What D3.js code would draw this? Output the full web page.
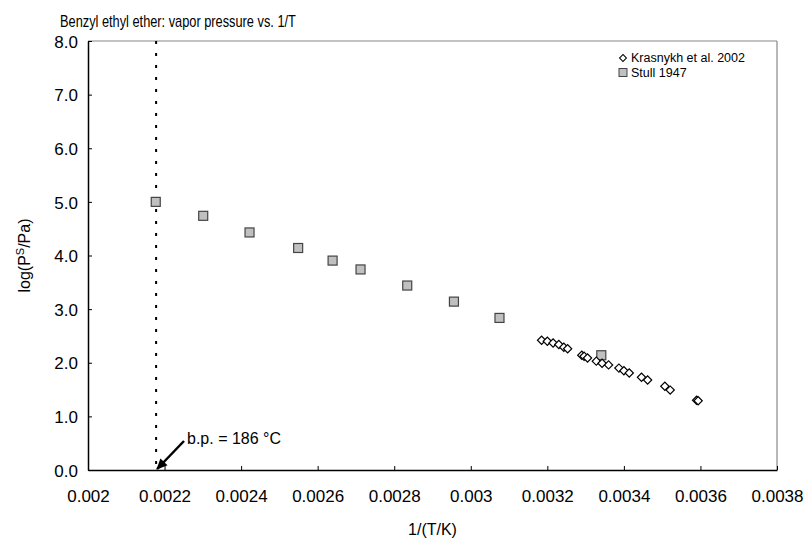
<!DOCTYPE html>
<html><head><meta charset="utf-8">
<script src="https://cdn.jsdelivr.net/npm/d3@7"></script>
<style>body{margin:0;background:#fff}svg{display:block}text{font-family:"Liberation Sans",Arial,sans-serif}</style>
</head><body>
<svg id="c" width="812" height="542"></svg>
<script>
const title = "Benzyl ethyl ether: vapor pressure vs. 1/T";
const xTicks = [0.002,0.0022,0.0024,0.0026,0.0028,0.003,0.0032,0.0034,0.0036,0.0038];
const xTickLabels = ["0.002","0.0022","0.0024","0.0026","0.0028","0.003","0.0032","0.0034","0.0036","0.0038"];
const yTicks = [0,1,2,3,4,5,6,7,8];
const yTickLabels = ["0.0","1.0","2.0","3.0","4.0","5.0","6.0","7.0","8.0"];
const krasnykhX = [0.003185,0.003200,0.003215,0.003230,0.003243,0.003253,0.003290,0.003296,0.003305,0.003328,0.003343,0.003360,0.003387,0.003400,0.003414,0.003446,0.003462,0.003507,0.003521,0.003590,0.003594];
const krasnykhY = [2.42,2.40,2.37,2.34,2.29,2.26,2.14,2.12,2.09,2.03,1.99,1.96,1.90,1.85,1.81,1.73,1.68,1.56,1.49,1.30,1.29];
const stullX = [0.002177,0.002301,0.002422,0.002549,0.002639,0.002712,0.002834,0.002956,0.003075,0.003341];
const stullY = [5.00,4.74,4.43,4.14,3.905,3.74,3.44,3.14,2.836,2.14];
const bpX = 1/(186+273.15);
const legendLabels = ["Krasnykh et al. 2002","Stull 1947"];

const svg = d3.select("#c");
const L=88,R=777,T=41,B=470;
const x = d3.scaleLinear().domain([0.002,0.0038]).range([L,R]);
const y = d3.scaleLinear().domain([0,8]).range([B,T]);

// frame
svg.append("line").attr("x1",L).attr("x2",R).attr("y1",T).attr("y2",T).attr("stroke","#888").attr("stroke-width",1.2);
svg.append("line").attr("x1",R).attr("x2",R).attr("y1",T).attr("y2",B).attr("stroke","#888").attr("stroke-width",1.2);

const xa = svg.append("g").attr("transform",`translate(0,${B})`)
  .call(d3.axisBottom(x).tickValues(xTicks).tickFormat((d,i)=>xTickLabels[i]).tickSizeInner(-4).tickSizeOuter(0).tickPadding(20));
const ya = svg.append("g").attr("transform",`translate(${L},0)`)
  .call(d3.axisLeft(y).tickValues(yTicks).tickFormat((d,i)=>yTickLabels[i]).tickSizeInner(-4).tickSizeOuter(0).tickPadding(10));
[xa,ya].forEach(g=>{
  g.select(".domain").attr("stroke","#000").attr("stroke-width",1.5);
  g.selectAll(".tick line").attr("stroke","#000");
  g.selectAll(".tick text").attr("font-size",17).attr("fill","#000").attr("font-family","Liberation Sans, Arial, sans-serif");
});
xa.selectAll(".tick text").attr("dy","0.71em");
ya.selectAll(".tick text").attr("dy","0.36em");

// dotted b.p. line
svg.append("line").attr("x1",x(bpX)).attr("x2",x(bpX)).attr("y1",T).attr("y2",B)
  .attr("stroke","#000").attr("stroke-width",2).attr("stroke-dasharray","3,9");

// Stull squares
svg.append("g").selectAll("rect").data(stullX).join("rect")
  .attr("x",(d)=>x(d)-4.5).attr("y",(d,i)=>y(stullY[i])-4.5).attr("width",9).attr("height",9)
  .attr("fill","#c0c0c0").attr("stroke","#444").attr("stroke-width",1.2);

// Krasnykh diamonds
svg.append("g").selectAll("path").data(krasnykhX).join("path")
  .attr("transform",(d,i)=>`translate(${x(d)},${y(krasnykhY[i])}) rotate(45)`)
  .attr("d",d3.symbol().type(d3.symbolSquare).size(34)())
  .attr("fill","#fff").attr("stroke","#000").attr("stroke-width",1.2);

// legend
const lg = svg.append("g").attr("font-size",12.5);
lg.append("path").attr("transform","translate(623,58) rotate(45)").attr("d",d3.symbol().type(d3.symbolSquare).size(24)())
  .attr("fill","#fff").attr("stroke","#000").attr("stroke-width",1);
lg.append("text").attr("x",631).attr("y",62).text(legendLabels[0]);
lg.append("rect").attr("x",619).attr("y",68.5).attr("width",8).attr("height",8).attr("fill","#c0c0c0").attr("stroke","#444");
lg.append("text").attr("x",631).attr("y",77).text(legendLabels[1]);

// annotation arrow
svg.append("defs").append("marker").attr("id","ah").attr("viewBox","0 0 10 10").attr("refX",9).attr("refY",5)
  .attr("markerWidth",15).attr("markerHeight",11).attr("orient","auto").attr("markerUnits","userSpaceOnUse")
  .append("path").attr("d","M0,0.5 L10,5 L0,9.5 z").attr("fill","#000");
svg.append("line").attr("x1",184).attr("y1",441).attr("x2",x(bpX)+1).attr("y2",B-1)
  .attr("stroke","#000").attr("stroke-width",2.5).attr("marker-end","url(#ah)");
svg.append("text").attr("x",187).attr("y",444).attr("font-size",16).text("b.p. = 186 °C");

// titles
svg.append("text").attr("transform","translate(60,27) scale(0.8,1)").attr("font-size",16).text(title);
svg.append("text").attr("x",(L+R)/2).attr("y",535).attr("text-anchor","middle").attr("font-size",16).text("1/(T/K)");
const yt = svg.append("text").attr("transform",`translate(30,${(T+B)/2}) rotate(-90)`).attr("text-anchor","middle").attr("font-size",16);
yt.append("tspan").text("log(P");
yt.append("tspan").attr("dy",-6).attr("font-size",11).text("S");
yt.append("tspan").attr("dy",6).text("/Pa)");
</script>
</body></html>
